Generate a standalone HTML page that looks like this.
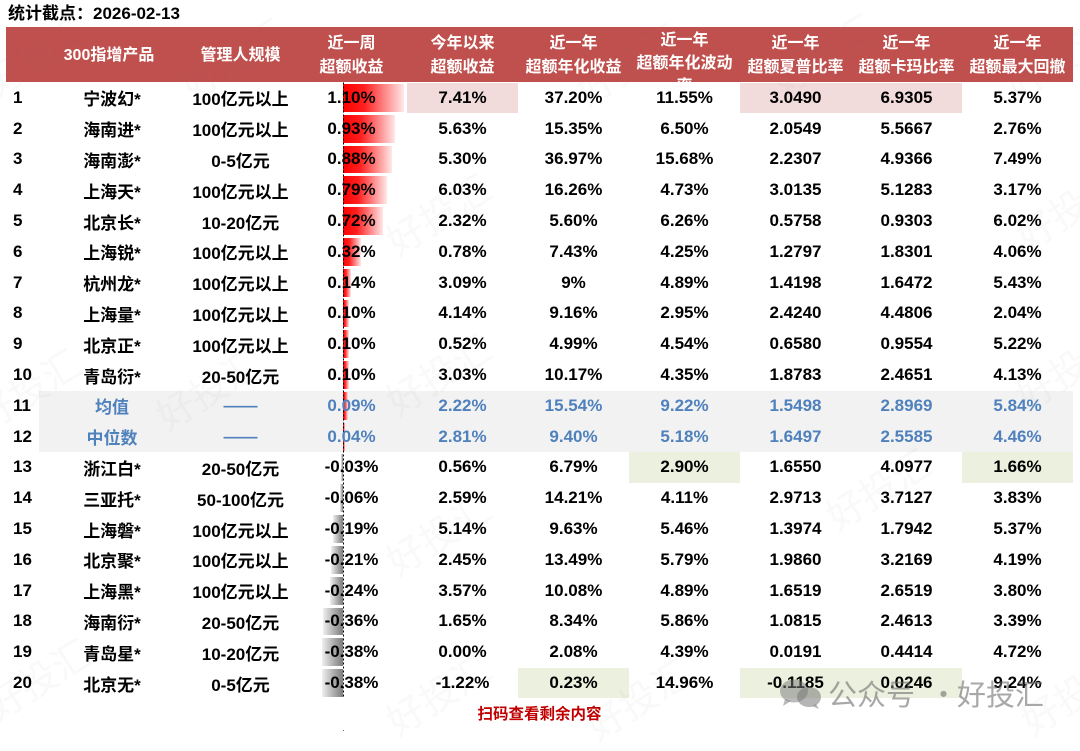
<!DOCTYPE html>
<html><head><meta charset="utf-8">
<style>
html,body{margin:0;padding:0;background:#fff;}
body{width:1080px;height:737px;position:relative;overflow:hidden;font-family:"Liberation Sans","Noto Sans CJK SC",sans-serif;font-weight:bold;color:#000;}
.abs{position:absolute;}
.title{left:8px;top:3px;font-size:17px;line-height:22px;}
.hdr{left:6px;top:26.5px;width:1067px;height:55.8px;background:#C0504D;overflow:hidden;color:#fff;font-size:16px;}
.hc{position:absolute;top:0;height:55.8px;display:flex;align-items:center;justify-content:center;text-align:center;line-height:23.5px;padding-top:3px;box-sizing:border-box;white-space:nowrap;}
.r{position:absolute;left:6px;height:30.8px;display:flex;align-items:center;font-size:17px;white-space:nowrap;}
.r span{width:111px;text-align:center;flex:none;}
.r span:nth-child(1){width:33px;text-align:left;padding-left:7px;box-sizing:border-box;}
.r span:nth-child(2){width:146px;}
.b span{color:#4F81BD;}
.b span:nth-child(1){color:#000;}
.bar{position:absolute;height:27.8px;}
.p{left:343px;background:linear-gradient(90deg,#ff0000 0%,#ff2020 35%,#ffe8e8 100%);}
.n{background:linear-gradient(270deg,#7c7c7c 0%,#a8a8a8 40%,#efefef 100%);}
.wm{position:absolute;font-size:38px;font-weight:normal;color:rgba(128,128,128,0.05);transform:rotate(-32deg);white-space:nowrap;font-family:"Noto Sans CJK SC",sans-serif;}
.wx{position:absolute;top:674px;font-size:29px;line-height:38px;font-weight:normal;color:rgba(110,110,110,0.6);white-space:nowrap;font-family:"Noto Sans CJK SC",sans-serif;}
</style></head><body>

<div class="abs title">统计截点：2026-02-13</div>

<div class="abs hdr">
  <div class="hc" style="left:30px;width:146px;">300指增产品</div>
  <div class="hc" style="left:179px;width:111px;">管理人规模</div>
  <div class="hc" style="left:290px;width:111px;">近一周<br>超额收益</div>
  <div class="hc" style="left:401px;width:111px;">今年以来<br>超额收益</div>
  <div class="hc" style="left:512px;width:111px;">近一年<br>超额年化收益</div>
  <div class="abs" style="left:623px;width:111px;top:2.5px;text-align:center;line-height:23px;white-space:nowrap;">近一年<br>超额年化波动<br>率</div>
  <div class="hc" style="left:734px;width:111px;">近一年<br>超额夏普比率</div>
  <div class="hc" style="left:845px;width:111px;">近一年<br>超额卡玛比率</div>
  <div class="hc" style="left:956px;width:111px;">近一年<br>超额最大回撤</div>
</div>

<!-- highlight backgrounds -->
<div class="abs" style="left:407px;top:83px;width:111px;height:30.3px;background:#F2DCDB;"></div>
<div class="abs" style="left:740px;top:83px;width:222px;height:30.3px;background:#F2DCDB;"></div>
<div class="abs" style="left:39px;top:390.5px;width:1034px;height:61.6px;background:#F2F2F2;"></div>
<div class="abs" style="left:629px;top:452.1px;width:111px;height:30.8px;background:#EBF1DE;"></div>
<div class="abs" style="left:962px;top:452.1px;width:111px;height:30.8px;background:#EBF1DE;"></div>
<div class="abs" style="left:518px;top:667.7px;width:111px;height:30.8px;background:#EBF1DE;"></div>
<div class="abs" style="left:740px;top:667.7px;width:222px;height:30.8px;background:#EBF1DE;"></div>

<!-- faint watermarks -->
<div class="wm" style="left:-20px;top:25px;">好投汇</div>
<div class="wm" style="left:175px;top:30px;">好投汇</div>
<div class="wm" style="left:570px;top:35px;">好投汇</div>
<div class="wm" style="left:765px;top:25px;">好投汇</div>
<div class="wm" style="left:1000px;top:30px;">好投汇</div>
<div class="wm" style="left:380px;top:185px;">好投汇</div>
<div class="wm" style="left:1010px;top:180px;">好投汇</div>
<div class="wm" style="left:380px;top:345px;">好投汇</div>
<div class="wm" style="left:1010px;top:340px;">好投汇</div>
<div class="wm" style="left:-30px;top:360px;">好投汇</div>
<div class="wm" style="left:150px;top:360px;">好投汇</div>
<div class="wm" style="left:380px;top:505px;">好投汇</div>
<div class="wm" style="left:820px;top:460px;">好投汇</div>
<div class="wm" style="left:380px;top:665px;">好投汇</div>
<div class="wm" style="left:580px;top:670px;">好投汇</div>
<div class="wm" style="left:-20px;top:650px;">好投汇</div>
<div class="wm" style="left:1015px;top:665px;">好投汇</div>

<!-- data bars -->
<div class="bar p" style="top:84.0px;width:61px;"></div>
<div class="bar p" style="top:114.8px;width:51.6px;"></div>
<div class="bar p" style="top:145.6px;width:48.8px;"></div>
<div class="bar p" style="top:176.4px;width:43.8px;"></div>
<div class="bar p" style="top:207.2px;width:40px;"></div>
<div class="bar p" style="top:238.0px;width:17.8px;"></div>
<div class="bar p" style="top:268.8px;width:7.8px;"></div>
<div class="bar p" style="top:299.6px;width:5.6px;"></div>
<div class="bar p" style="top:330.4px;width:5.6px;"></div>
<div class="bar p" style="top:361.2px;width:5.6px;"></div>
<div class="bar p" style="top:392.0px;width:5px;"></div>
<div class="bar p" style="top:422.8px;width:2.2px;"></div>
<div class="bar n" style="top:453.6px;left:341.3px;width:1.7px;"></div>
<div class="bar n" style="top:484.4px;left:339.7px;width:3.3px;"></div>
<div class="bar n" style="top:515.2px;left:332.5px;width:10.5px;"></div>
<div class="bar n" style="top:546.0px;left:331.3px;width:11.7px;"></div>
<div class="bar n" style="top:576.8px;left:329.7px;width:13.3px;"></div>
<div class="bar n" style="top:607.6px;left:323px;width:20px;"></div>
<div class="bar n" style="top:638.4px;left:321.9px;width:21.1px;"></div>
<div class="bar n" style="top:669.2px;left:321.9px;width:21.1px;"></div>

<svg class="abs" style="left:0;top:0;" width="1080" height="737">
  <line x1="343.5" y1="82.5" x2="343.5" y2="698.5" stroke="#000" stroke-width="1" stroke-dasharray="2,2"/>
  <rect x="343" y="730" width="1" height="1" fill="#666"/>
</svg>

<!-- rows -->
<div class="r" style="top:82.5px"><span>1</span><span>宁波幻*</span><span>100亿元以上</span><span>1.10%</span><span>7.41%</span><span>37.20%</span><span>11.55%</span><span>3.0490</span><span>6.9305</span><span>5.37%</span></div>
<div class="r" style="top:113.3px"><span>2</span><span>海南进*</span><span>100亿元以上</span><span>0.93%</span><span>5.63%</span><span>15.35%</span><span>6.50%</span><span>2.0549</span><span>5.5667</span><span>2.76%</span></div>
<div class="r" style="top:144.1px"><span>3</span><span>海南澎*</span><span>0-5亿元</span><span>0.88%</span><span>5.30%</span><span>36.97%</span><span>15.68%</span><span>2.2307</span><span>4.9366</span><span>7.49%</span></div>
<div class="r" style="top:174.9px"><span>4</span><span>上海天*</span><span>100亿元以上</span><span>0.79%</span><span>6.03%</span><span>16.26%</span><span>4.73%</span><span>3.0135</span><span>5.1283</span><span>3.17%</span></div>
<div class="r" style="top:205.7px"><span>5</span><span>北京长*</span><span>10-20亿元</span><span>0.72%</span><span>2.32%</span><span>5.60%</span><span>6.26%</span><span>0.5758</span><span>0.9303</span><span>6.02%</span></div>
<div class="r" style="top:236.5px"><span>6</span><span>上海锐*</span><span>100亿元以上</span><span>0.32%</span><span>0.78%</span><span>7.43%</span><span>4.25%</span><span>1.2797</span><span>1.8301</span><span>4.06%</span></div>
<div class="r" style="top:267.3px"><span>7</span><span>杭州龙*</span><span>100亿元以上</span><span>0.14%</span><span>3.09%</span><span>9%</span><span>4.89%</span><span>1.4198</span><span>1.6472</span><span>5.43%</span></div>
<div class="r" style="top:298.1px"><span>8</span><span>上海量*</span><span>100亿元以上</span><span>0.10%</span><span>4.14%</span><span>9.16%</span><span>2.95%</span><span>2.4240</span><span>4.4806</span><span>2.04%</span></div>
<div class="r" style="top:328.9px"><span>9</span><span>北京正*</span><span>100亿元以上</span><span>0.10%</span><span>0.52%</span><span>4.99%</span><span>4.54%</span><span>0.6580</span><span>0.9554</span><span>5.22%</span></div>
<div class="r" style="top:359.7px"><span>10</span><span>青岛衍*</span><span>20-50亿元</span><span>0.10%</span><span>3.03%</span><span>10.17%</span><span>4.35%</span><span>1.8783</span><span>2.4651</span><span>4.13%</span></div>
<div class="r b" style="top:390.5px"><span>11</span><span>均值</span><span>——</span><span>0.09%</span><span>2.22%</span><span>15.54%</span><span>9.22%</span><span>1.5498</span><span>2.8969</span><span>5.84%</span></div>
<div class="r b" style="top:421.3px"><span>12</span><span>中位数</span><span>——</span><span>0.04%</span><span>2.81%</span><span>9.40%</span><span>5.18%</span><span>1.6497</span><span>2.5585</span><span>4.46%</span></div>
<div class="r" style="top:452.1px"><span>13</span><span>浙江白*</span><span>20-50亿元</span><span>-0.03%</span><span>0.56%</span><span>6.79%</span><span>2.90%</span><span>1.6550</span><span>4.0977</span><span>1.66%</span></div>
<div class="r" style="top:482.9px"><span>14</span><span>三亚托*</span><span>50-100亿元</span><span>-0.06%</span><span>2.59%</span><span>14.21%</span><span>4.11%</span><span>2.9713</span><span>3.7127</span><span>3.83%</span></div>
<div class="r" style="top:513.7px"><span>15</span><span>上海磐*</span><span>100亿元以上</span><span>-0.19%</span><span>5.14%</span><span>9.63%</span><span>5.46%</span><span>1.3974</span><span>1.7942</span><span>5.37%</span></div>
<div class="r" style="top:544.5px"><span>16</span><span>北京聚*</span><span>100亿元以上</span><span>-0.21%</span><span>2.45%</span><span>13.49%</span><span>5.79%</span><span>1.9860</span><span>3.2169</span><span>4.19%</span></div>
<div class="r" style="top:575.3px"><span>17</span><span>上海黑*</span><span>100亿元以上</span><span>-0.24%</span><span>3.57%</span><span>10.08%</span><span>4.89%</span><span>1.6519</span><span>2.6519</span><span>3.80%</span></div>
<div class="r" style="top:606.1px"><span>18</span><span>海南衍*</span><span>20-50亿元</span><span>-0.36%</span><span>1.65%</span><span>8.34%</span><span>5.86%</span><span>1.0815</span><span>2.4613</span><span>3.39%</span></div>
<div class="r" style="top:636.9px"><span>19</span><span>青岛星*</span><span>10-20亿元</span><span>-0.38%</span><span>0.00%</span><span>2.08%</span><span>4.39%</span><span>0.0191</span><span>0.4414</span><span>4.72%</span></div>
<div class="r" style="top:667.7px"><span>20</span><span>北京无*</span><span>0-5亿元</span><span>-0.38%</span><span>-1.22%</span><span>0.23%</span><span>14.96%</span><span>-0.1185</span><span>0.0246</span><span>9.24%</span></div>

<div class="abs" style="left:476px;top:705px;width:127px;text-align:center;font-size:15.5px;line-height:20px;color:#C00000;white-space:nowrap;">扫码查看剩余内容</div>

<!-- WeChat watermark -->
<svg class="abs" style="left:778px;top:677px;" width="48" height="34">
  <ellipse cx="16" cy="14" rx="14" ry="11.5" fill="rgba(120,120,120,0.5)"/>
  <path d="M7 22 L5 29 L13 24 Z" fill="rgba(120,120,120,0.5)"/>
  <ellipse cx="31" cy="20" rx="12" ry="10" fill="rgba(120,120,120,0.55)"/>
  <path d="M38 27 L41 32 L34 29 Z" fill="rgba(120,120,120,0.55)"/>
</svg>
<div class="wx" style="left:828px;">公众号</div>
<div class="wx" style="left:929px;">·</div>
<div class="wx" style="left:957px;">好投汇</div>

</body></html>
